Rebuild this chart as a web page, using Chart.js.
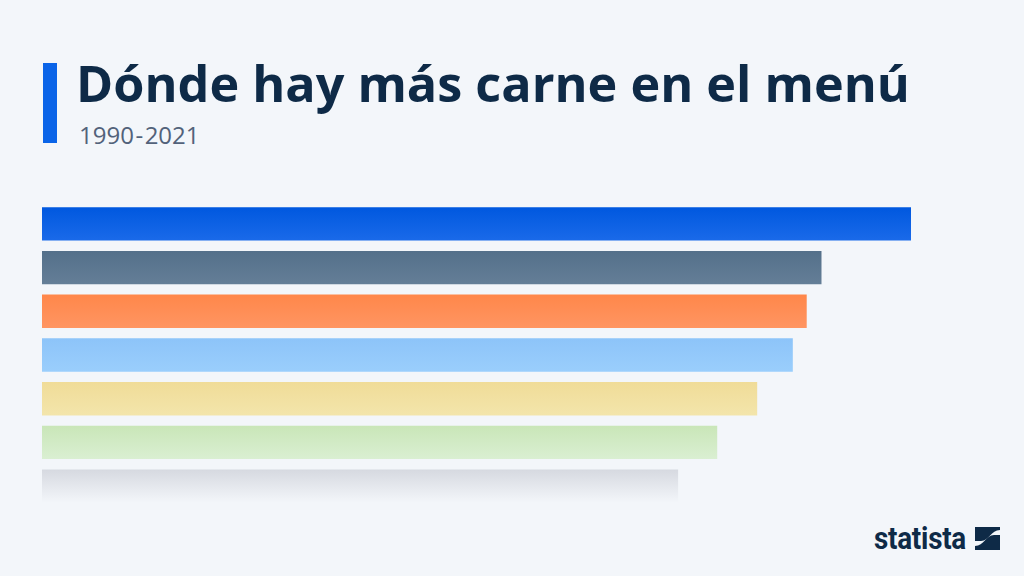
<!DOCTYPE html>
<html>
<head>
<meta charset="utf-8">
<script src="https://cdn.jsdelivr.net/npm/chart.js@4"></script>
<style>
  html,body{margin:0;padding:0;}
  body{width:1024px;height:576px;background:#f3f6fa;position:relative;overflow:hidden;font-family:"Open Sans",sans-serif;}
  #accent{position:absolute;left:43px;top:63px;width:14px;height:80px;background:#0a64e8;}
  #title{position:absolute;left:76px;top:58px;margin:0;font-weight:700;font-size:44px;line-height:1;color:#0e2a47;white-space:nowrap;letter-spacing:0;}
  #subtitle{position:absolute;left:79px;top:123px;margin:0;font-weight:400;font-size:24px;line-height:1;color:#52627a;white-space:nowrap;}
  #subtitle .h{margin:0 1.5px;}
  #wrap{position:absolute;left:42px;top:202px;width:869px;height:306px;}
  #logotext{position:absolute;left:874px;top:522px;font-family:Roboto,sans-serif;font-weight:700;font-size:32px;color:#0e2a47;display:inline-block;transform-origin:left center;letter-spacing:-0.3px;line-height:1;white-space:nowrap;}
  #logoicon{position:absolute;left:975px;top:527px;}
</style>
</head>
<body>
<div id="accent"></div>
<h1 id="title">Dónde hay más carne en el menú</h1>
<div id="subtitle">1990<span class="h">-</span>2021</div>
<div id="wrap"><canvas id="c"></canvas></div>
<span id="logotext">statista</span>
<svg id="logoicon" width="25" height="23" viewBox="0 0 25 23">
  <path d="M0 0H25V3C16 3 14 14 6 14H0Z" fill="#0e2a47"/>
  <path d="M25 8V23H0V19C9 19 11 8 19 8H25Z" fill="#0e2a47"/>
</svg>
<script>
const categories = ["1", "2", "3", "4", "5", "6", "7"];
const values = [100, 89.7, 88.0, 86.4, 82.3, 77.7, 73.2];
const topColors = ["#0058df", "#54708a", "#ff874a", "#8dc4f9", "#f0dc98", "#c9e6b8", "#d6d9e0"];
const bottomColors = ["#1a6ae9", "#647e97", "#ff9562", "#9acefc", "#f3e5ab", "#daefd2", "#f3f6fa"];

function fit(el, target){
  const w = el.getBoundingClientRect().width;
  const fs = parseFloat(getComputedStyle(el).fontSize);
  el.style.fontSize = (fs * target / w) + "px";
}
fit(document.getElementById("title"), 834);
(function(){
  const lt = document.getElementById("logotext");
  const w = lt.getBoundingClientRect().width;
  lt.style.transform = "scaleX(" + (92 / w) + ")";
})();

const BAR_PCT = 0.763;
new Chart(document.getElementById("c"), {
  type: "bar",
  data: {
    labels: categories,
    datasets: [{
      data: values,
      borderWidth: 0,
      borderSkipped: false,
      categoryPercentage: 1,
      barPercentage: BAR_PCT,
      backgroundColor: function(ctx){
        const chart = ctx.chart;
        const area = chart.chartArea;
        const i = ctx.dataIndex;
        if (!area || i === undefined) return topColors[i] || topColors[0];
        const yScale = chart.scales.y;
        const band = (area.bottom - area.top) / categories.length;
        const center = yScale.getPixelForValue(i);
        const half = band * BAR_PCT / 2;
        const g = chart.ctx.createLinearGradient(0, center - half, 0, center + half);
        g.addColorStop(0, topColors[i]);
        g.addColorStop(1, bottomColors[i]);
        return g;
      }
    }]
  },
  options: {
    indexAxis: "y",
    responsive: true,
    maintainAspectRatio: false,
    animation: false,
    layout: { padding: 0 },
    plugins: { legend: { display: false }, tooltip: { enabled: false }, title: { display: false } },
    scales: {
      x: { display: false, min: 0, max: 100 },
      y: { display: false }
    }
  }
});
</script>
</body>
</html>
